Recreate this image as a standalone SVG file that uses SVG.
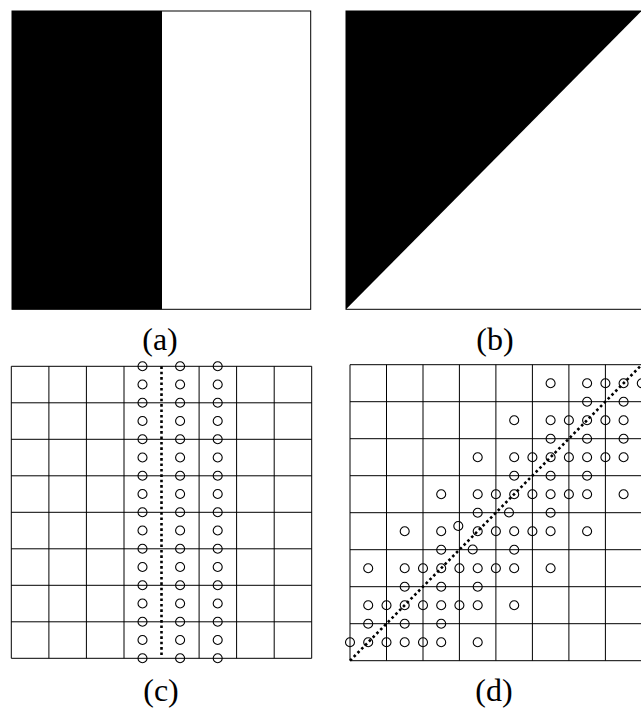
<svg xmlns="http://www.w3.org/2000/svg" xmlns:xlink="http://www.w3.org/1999/xlink" width="641" height="710" viewBox="0 0 641 710">
<style>
.ln{stroke:#000;stroke-width:1;fill:none}
.c{stroke:#000;stroke-width:1.1;fill:none}
.dot{stroke:#000;stroke-width:2.6;fill:none;stroke-dasharray:2.6 2.8}
.lbl{font-family:"Liberation Serif","Times New Roman",serif;font-size:32px;fill:#000;text-anchor:middle}
</style>
<defs>
<circle id="o" r="4.5" class="c"/>
</defs>
<rect width="641" height="710" fill="#fff"/>

<g id="panel-a">
<rect x="12" y="11" width="150" height="298.3" fill="#000"/>
<rect x="12" y="11" width="298.7" height="298.3" class="ln"/>
<text class="lbl" x="160" y="350">(a)</text>
</g>

<g id="panel-b">
<polygon points="346,11 641.5,11 346,309.3" fill="#000"/>
<rect x="346" y="11" width="298.7" height="298.3" class="ln"/>
<text class="lbl" x="495" y="350">(b)</text>
</g>

<g id="panel-c">
<g id="grid-c" class="ln">
<path d="M11.3,366.3V658.3M48.9,366.3V658.3M86.4,366.3V658.3M124,366.3V658.3M199.1,366.3V658.3M236.6,366.3V658.3M274.2,366.3V658.3M311.7,366.3V658.3"/>
<path d="M11.3,366.3H311.7M11.3,402.8H311.7M11.3,439.3H311.7M11.3,475.8H311.7M11.3,512.3H311.7M11.3,548.8H311.7M11.3,585.3H311.7M11.3,621.8H311.7M11.3,658.3H311.7"/>
</g>
<line class="dot" x1="161.5" y1="366.3" x2="161.5" y2="658.3"/>
<g id="samples-c">
<use xlink:href="#o" x="142.5" y="366.3"/><use xlink:href="#o" x="180.1" y="366.3"/><use xlink:href="#o" x="217.7" y="366.3"/>
<use xlink:href="#o" x="142.5" y="384.55"/><use xlink:href="#o" x="180.1" y="384.55"/><use xlink:href="#o" x="217.7" y="384.55"/>
<use xlink:href="#o" x="142.5" y="402.8"/><use xlink:href="#o" x="180.1" y="402.8"/><use xlink:href="#o" x="217.7" y="402.8"/>
<use xlink:href="#o" x="142.5" y="421.05"/><use xlink:href="#o" x="180.1" y="421.05"/><use xlink:href="#o" x="217.7" y="421.05"/>
<use xlink:href="#o" x="142.5" y="439.3"/><use xlink:href="#o" x="180.1" y="439.3"/><use xlink:href="#o" x="217.7" y="439.3"/>
<use xlink:href="#o" x="142.5" y="457.55"/><use xlink:href="#o" x="180.1" y="457.55"/><use xlink:href="#o" x="217.7" y="457.55"/>
<use xlink:href="#o" x="142.5" y="475.8"/><use xlink:href="#o" x="180.1" y="475.8"/><use xlink:href="#o" x="217.7" y="475.8"/>
<use xlink:href="#o" x="142.5" y="494.05"/><use xlink:href="#o" x="180.1" y="494.05"/><use xlink:href="#o" x="217.7" y="494.05"/>
<use xlink:href="#o" x="142.5" y="512.3"/><use xlink:href="#o" x="180.1" y="512.3"/><use xlink:href="#o" x="217.7" y="512.3"/>
<use xlink:href="#o" x="142.5" y="530.55"/><use xlink:href="#o" x="180.1" y="530.55"/><use xlink:href="#o" x="217.7" y="530.55"/>
<use xlink:href="#o" x="142.5" y="548.8"/><use xlink:href="#o" x="180.1" y="548.8"/><use xlink:href="#o" x="217.7" y="548.8"/>
<use xlink:href="#o" x="142.5" y="567.05"/><use xlink:href="#o" x="180.1" y="567.05"/><use xlink:href="#o" x="217.7" y="567.05"/>
<use xlink:href="#o" x="142.5" y="585.3"/><use xlink:href="#o" x="180.1" y="585.3"/><use xlink:href="#o" x="217.7" y="585.3"/>
<use xlink:href="#o" x="142.5" y="603.55"/><use xlink:href="#o" x="180.1" y="603.55"/><use xlink:href="#o" x="217.7" y="603.55"/>
<use xlink:href="#o" x="142.5" y="621.8"/><use xlink:href="#o" x="180.1" y="621.8"/><use xlink:href="#o" x="217.7" y="621.8"/>
<use xlink:href="#o" x="142.5" y="640.05"/><use xlink:href="#o" x="180.1" y="640.05"/><use xlink:href="#o" x="217.7" y="640.05"/>
<use xlink:href="#o" x="142.5" y="658.3"/><use xlink:href="#o" x="180.1" y="658.3"/><use xlink:href="#o" x="217.7" y="658.3"/>
</g>
<text class="lbl" x="161" y="701">(c)</text>
</g>

<g id="panel-d">
<g id="grid-d" class="ln">
<path d="M350,364.7V660.7M386.5,364.7V660.7M423,364.7V660.7M459.4,364.7V660.7M495.9,364.7V660.7M532.4,364.7V660.7M568.9,364.7V660.7M605.4,364.7V660.7M641.8,364.7V660.7"/>
<path d="M350,364.7H641.8M350,401.7H641.8M350,438.7H641.8M350,475.7H641.8M350,512.7H641.8M350,549.7H641.8M350,586.7H641.8M350,623.7H641.8M350,660.7H641.8"/>
</g>
<line class="dot" x1="350" y1="660.7" x2="641.8" y2="364.7"/>
<g id="samples-d">
<use xlink:href="#o" x="550.6" y="383.2"/><use xlink:href="#o" x="587.1" y="383.2"/><use xlink:href="#o" x="605.4" y="383.2"/><use xlink:href="#o" x="623.6" y="383.2"/><use xlink:href="#o" x="641.8" y="383.2"/>
<use xlink:href="#o" x="587.1" y="401.7"/><use xlink:href="#o" x="623.6" y="401.7"/>
<use xlink:href="#o" x="514.2" y="420.2"/><use xlink:href="#o" x="550.6" y="420.2"/><use xlink:href="#o" x="568.9" y="420.2"/><use xlink:href="#o" x="587.1" y="420.2"/><use xlink:href="#o" x="605.4" y="420.2"/><use xlink:href="#o" x="623.6" y="420.2"/>
<use xlink:href="#o" x="550.6" y="438.7"/><use xlink:href="#o" x="587.1" y="438.7"/><use xlink:href="#o" x="623.6" y="438.7"/>
<use xlink:href="#o" x="477.7" y="457.2"/><use xlink:href="#o" x="514.2" y="457.2"/><use xlink:href="#o" x="532.4" y="457.2"/><use xlink:href="#o" x="550.6" y="457.2"/><use xlink:href="#o" x="568.9" y="457.2"/><use xlink:href="#o" x="587.1" y="457.2"/><use xlink:href="#o" x="605.4" y="457.2"/><use xlink:href="#o" x="623.6" y="457.2"/>
<use xlink:href="#o" x="514.2" y="475.7"/><use xlink:href="#o" x="550.6" y="475.7"/><use xlink:href="#o" x="587.1" y="475.7"/>
<use xlink:href="#o" x="441.2" y="494.2"/><use xlink:href="#o" x="477.7" y="494.2"/><use xlink:href="#o" x="495.9" y="494.2"/><use xlink:href="#o" x="514.2" y="494.2"/><use xlink:href="#o" x="532.4" y="494.2"/><use xlink:href="#o" x="550.6" y="494.2"/><use xlink:href="#o" x="568.9" y="494.2"/><use xlink:href="#o" x="587.1" y="494.2"/><use xlink:href="#o" x="623.6" y="494.2"/>
<use xlink:href="#o" x="477.7" y="512.7"/><use xlink:href="#o" x="509" y="512.5"/><use xlink:href="#o" x="550.6" y="512.7"/>
<use xlink:href="#o" x="458.3" y="526"/>
<use xlink:href="#o" x="404.7" y="531.2"/><use xlink:href="#o" x="441.2" y="531.2"/><use xlink:href="#o" x="477.7" y="531.2"/><use xlink:href="#o" x="495.9" y="531.2"/><use xlink:href="#o" x="514.2" y="531.2"/><use xlink:href="#o" x="532.4" y="531.2"/><use xlink:href="#o" x="550.6" y="531.2"/><use xlink:href="#o" x="587.1" y="531.2"/>
<use xlink:href="#o" x="441.2" y="549.7"/><use xlink:href="#o" x="472.7" y="549.5"/><use xlink:href="#o" x="514.2" y="549.7"/>
<use xlink:href="#o" x="368.2" y="568.2"/><use xlink:href="#o" x="404.7" y="568.2"/><use xlink:href="#o" x="423" y="568.2"/><use xlink:href="#o" x="441.2" y="568.2"/><use xlink:href="#o" x="459.4" y="568.2"/><use xlink:href="#o" x="477.7" y="568.2"/><use xlink:href="#o" x="495.9" y="568.2"/><use xlink:href="#o" x="514.2" y="568.2"/><use xlink:href="#o" x="550.6" y="568.2"/>
<use xlink:href="#o" x="404.7" y="586.7"/><use xlink:href="#o" x="441.2" y="586.7"/><use xlink:href="#o" x="477.7" y="586.7"/>
<use xlink:href="#o" x="368.2" y="605.2"/><use xlink:href="#o" x="386.5" y="605.2"/><use xlink:href="#o" x="404.7" y="605.2"/><use xlink:href="#o" x="423" y="605.2"/><use xlink:href="#o" x="441.2" y="605.2"/><use xlink:href="#o" x="459.4" y="605.2"/><use xlink:href="#o" x="477.7" y="605.2"/><use xlink:href="#o" x="514.2" y="605.2"/>
<use xlink:href="#o" x="368.2" y="623.7"/><use xlink:href="#o" x="404.7" y="623.7"/><use xlink:href="#o" x="441.2" y="623.7"/>
<use xlink:href="#o" x="350" y="642.2"/><use xlink:href="#o" x="368.2" y="642.2"/><use xlink:href="#o" x="386.5" y="642.2"/><use xlink:href="#o" x="404.7" y="642.2"/><use xlink:href="#o" x="423" y="642.2"/><use xlink:href="#o" x="441.2" y="642.2"/><use xlink:href="#o" x="477.7" y="642.2"/>
</g>
<text class="lbl" x="494" y="701">(d)</text>
</g>
</svg>
